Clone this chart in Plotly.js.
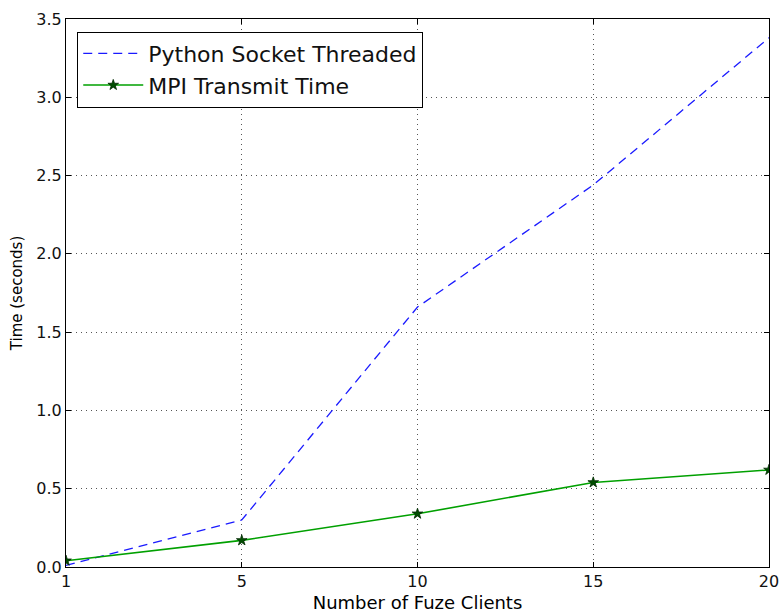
<!DOCTYPE html>
<html>
<head>
<meta charset="utf-8">
<script src="https://cdn.plot.ly/plotly-3.0.1.min.js"></script>
<style>html,body{margin:0;padding:0;background:#fff;}#chart{width:780px;height:613px;}</style>
</head>
<body>
<div id="chart"></div>
<script>
const clients = ['1', '5', '10', '15', '20'];
const pythonSocket = [0.01, 0.30, 1.66, 2.44, 3.38];
const mpiTransmit = [0.04, 0.17, 0.34, 0.54, 0.62];
const yTicks = [0, 0.5, 1.0, 1.5, 2.0, 2.5, 3.0, 3.5];

const font = 'DejaVu Sans, sans-serif';
const data = [
  {x: clients, y: pythonSocket, name: 'Python Socket Threaded', mode: 'lines',
   line: {color: '#1a1aff', dash: '9px,6px', width: 1.3}},
  {x: clients, y: mpiTransmit, name: 'MPI Transmit Time', mode: 'lines+markers',
   line: {color: '#00a000', width: 1.6},
   marker: {symbol: 'star', size: 8, color: '#004d00', line: {color: '#002a00', width: 0.8}}}
];
const axisCommon = {
  showline: true, linecolor: '#000', linewidth: 1, mirror: 'ticks',
  ticks: 'inside', ticklen: 5, tickcolor: '#000',
  showgrid: true, gridcolor: '#555', griddash: '1px,4px', gridwidth: 1,
  zeroline: false, tickfont: {family: font, size: 16, color: '#111'}
};
const layout = {
  width: 780, height: 613,
  margin: {l: 66, r: 11, t: 19, b: 46},
  paper_bgcolor: '#fff', plot_bgcolor: '#fff',
  font: {family: font, color: '#000'},
  showlegend: true,
  legend: {x: 0.016, y: 0.977, xanchor: 'left', yanchor: 'top',
    bordercolor: '#000', borderwidth: 1, bgcolor: '#fff',
    font: {family: font, size: 22, color: '#111'}, tracegroupgap: 0, itemwidth: 60},
  xaxis: Object.assign({}, axisCommon, {type: 'category', range: [0, 4],
    title: {text: 'Number of Fuze Clients', font: {family: font, size: 18}, standoff: 6}}),
  yaxis: Object.assign({}, axisCommon, {range: [0, 3.5], tickvals: yTicks, tickformat: '.1f',
    title: {text: 'Time (seconds)', font: {family: font, size: 15}, standoff: 10}})
};
Plotly.newPlot('chart', data, layout, {displayModeBar: false, staticPlot: true});
</script>
</body>
</html>
